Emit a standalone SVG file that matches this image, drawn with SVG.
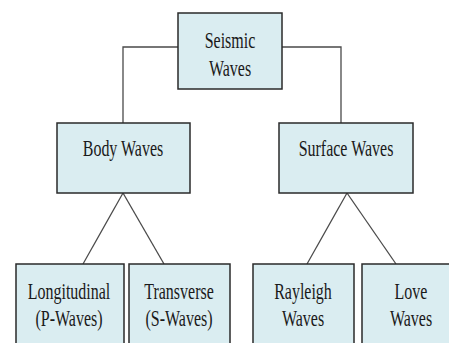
<svg xmlns="http://www.w3.org/2000/svg" width="449" height="343" viewBox="0 0 449 343">
  <style>
    .box { fill: #daedf1; stroke: #2a2a2a; stroke-width: 1.5; }
    .lbl { font-size: 16px; fill: #1a1a1a; text-anchor: middle; }
    .wire { fill: none; stroke: #4a4a4a; stroke-width: 1.3; }
  </style>
  <rect width="449" height="343" fill="#ffffff"/>

  <g id="connectors">
    <polyline class="wire" points="178,47 123,47 123,123"/>
    <polyline class="wire" points="282,47 341,47 341,123"/>
    <line class="wire" x1="123" y1="193" x2="83" y2="264"/>
    <line class="wire" x1="123" y1="193" x2="164" y2="264"/>
    <line class="wire" x1="347" y1="193" x2="307" y2="264"/>
    <line class="wire" x1="347" y1="193" x2="396" y2="264"/>
  </g>

  <g font-family="'Liberation Serif', 'DejaVu Serif', serif">
    <g id="seismic-waves">
      <rect class="box" x="178" y="13" width="104" height="76"/>
      <text class="lbl" transform="translate(230,48) scale(1,1.5)">Seismic</text>
      <text class="lbl" transform="translate(230,76) scale(1,1.5)">Waves</text>
    </g>

    <g id="body-waves">
      <rect class="box" x="57" y="123" width="133" height="70"/>
      <text class="lbl" transform="translate(123,156) scale(1,1.5)">Body Waves</text>
    </g>

    <g id="surface-waves">
      <rect class="box" x="279" y="123" width="134" height="70"/>
      <text class="lbl" transform="translate(346,156) scale(1,1.5)">Surface Waves</text>
    </g>

    <g id="longitudinal">
      <rect class="box" x="16" y="264" width="108" height="90"/>
      <text class="lbl" transform="translate(69,299) scale(1,1.5)">Longitudinal</text>
      <text class="lbl" transform="translate(69,326) scale(1,1.5)">(P-Waves)</text>
    </g>

    <g id="transverse">
      <rect class="box" x="129" y="264" width="101" height="90"/>
      <text class="lbl" transform="translate(179,299) scale(1,1.5)">Transverse</text>
      <text class="lbl" transform="translate(179,326) scale(1,1.5)">(S-Waves)</text>
    </g>

    <g id="rayleigh">
      <rect class="box" x="253" y="264" width="101" height="90"/>
      <text class="lbl" transform="translate(303,299) scale(1,1.5)">Rayleigh</text>
      <text class="lbl" transform="translate(303,326) scale(1,1.5)">Waves</text>
    </g>

    <g id="love">
      <rect class="box" x="362" y="264" width="92" height="90"/>
      <text class="lbl" transform="translate(411,299) scale(1,1.5)">Love</text>
      <text class="lbl" transform="translate(411,326) scale(1,1.5)">Waves</text>
    </g>
  </g>
</svg>
